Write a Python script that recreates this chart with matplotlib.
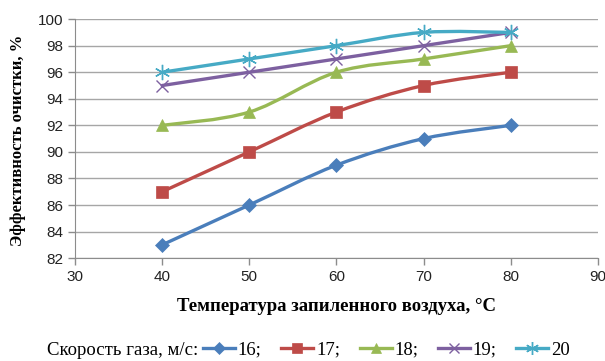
import matplotlib
matplotlib.use("Agg")
import matplotlib.pyplot as plt
import numpy as np
from matplotlib.lines import Line2D
from matplotlib.patches import PathPatch
from matplotlib.path import Path

temps = [40, 50, 60, 70, 80]
speeds = ["16", "17", "18", "19", "20"]
eff_16 = [83, 86, 89, 91, 92]
eff_17 = [87, 90, 93, 95, 96]
eff_18 = [92, 93, 96, 97, 98]
eff_19 = [95, 96, 97, 98, 99]
eff_20 = [96, 97, 98, 99, 99]

series = [eff_16, eff_17, eff_18, eff_19, eff_20]
colors = ["#4A7EBB", "#BE4B48", "#98B954", "#7D60A0", "#46AAC5"]
markers = ["D", "s", "^", "x", (6, 2, 0)]
msizes = [7, 8, 8, 9, 11]

SERIF = "Liberation Serif"
SANS = "Liberation Sans"


def smooth_path(x, y):
    # Excel-style smoothed line as cubic bezier segments through the points
    pts = np.column_stack([x, y]).astype(float)
    ext = np.vstack([pts[0], pts, pts[-1]])
    verts = [tuple(pts[0])]
    codes = [Path.MOVETO]
    for i in range(1, len(ext) - 2):
        p0, p1, p2, p3 = ext[i - 1], ext[i], ext[i + 1], ext[i + 2]
        c1 = p1 + (p2 - p0) / 6.0
        c2 = p2 - (p3 - p1) / 6.0
        verts += [tuple(c1), tuple(c2), tuple(p2)]
        codes += [Path.CURVE4] * 3
    return Path(verts, codes)


fig = plt.figure(figsize=(6.05, 3.61), dpi=100)
ax = fig.add_axes([0.124, 0.285, 0.864, 0.662])

for vals, c, m, ms in zip(series, colors, markers, msizes):
    patch = PathPatch(smooth_path(temps, vals), facecolor="none",
                      edgecolor=c, lw=2.4, zorder=3, capstyle="round")
    ax.add_patch(patch)
    mew = 1.0 if m in ("x", (6, 2, 0)) else 0.5
    ax.plot(temps, vals, linestyle="none", marker=m, ms=ms, color=c,
            mec=c, mew=mew, zorder=4)

ax.set_xlim(30, 90)
ax.set_ylim(82, 100)
ax.set_xticks(range(30, 91, 10))
ax.set_yticks(range(82, 101, 2))
ax.grid(axis="y", color="#A6A6A6", lw=1)
ax.set_axisbelow(True)
for s in ["top", "right"]:
    ax.spines[s].set_visible(False)
for s in ["left", "bottom"]:
    ax.spines[s].set_color("#8C8C8C")
ax.tick_params(colors="#8C8C8C", length=5, width=1, labelcolor="#222222",
               labelsize=11)
for lbl in ax.get_xticklabels() + ax.get_yticklabels():
    lbl.set_fontfamily(SANS)

fig.text(0.556, 0.152, "Температура запиленного воздуха, °С", ha="center",
         va="center", fontsize=13.5, fontweight="bold", family=SERIF)
fig.text(0.03, 0.61, "Эффективность очистки, %", ha="center", va="center",
         rotation=90, fontsize=12, fontweight="bold", family=SERIF)

fig.text(47 / 605, 0.03, "Скорость газа, м/с:", ha="left", va="center",
         fontsize=13.5, family=SERIF)

handles = []
labels = []
for i, (c, m, ms) in enumerate(zip(colors, markers, msizes)):
    mew = 1.0 if m in ("x", (6, 2, 0)) else 0.5
    handles.append(Line2D([], [], color=c, lw=2.4, marker=m, ms=ms * 0.85,
                          mec=c, mew=mew))
    labels.append(speeds[i] + (";" if i < len(speeds) - 1 else ""))

leg = fig.legend(handles, labels, loc="center left",
                 bbox_to_anchor=(203 / 605, 0.03), ncol=5, frameon=False,
                 borderpad=0, borderaxespad=0, handlelength=1.7,
                 handletextpad=0.15, columnspacing=1.05,
                 prop={"family": SERIF, "size": 13.5})

fig.savefig("out.png", dpi=100)
